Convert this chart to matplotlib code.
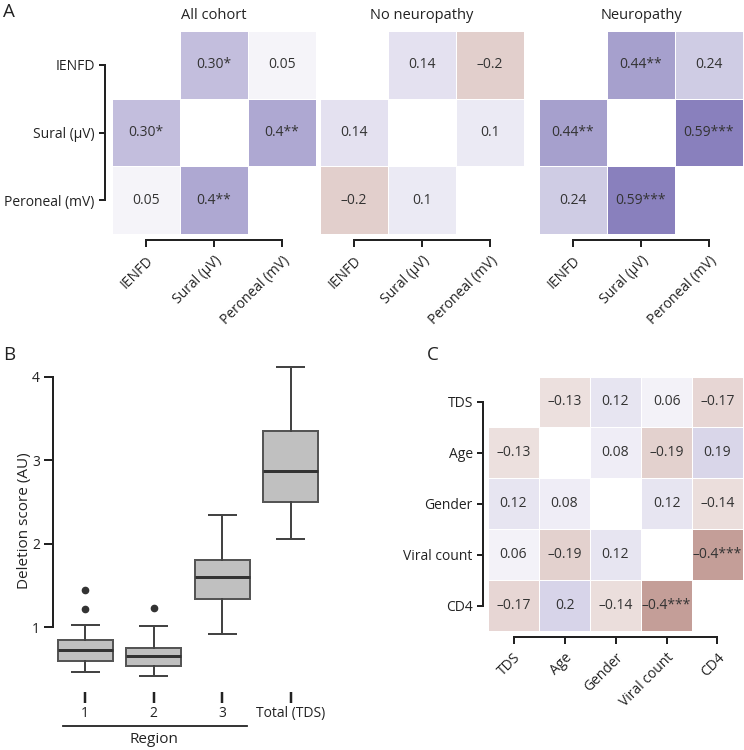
import numpy as np
import matplotlib
matplotlib.use('Agg')
import matplotlib.pyplot as plt
import matplotlib.transforms as mtransforms
from matplotlib.colors import LinearSegmentedColormap

plt.rcParams['font.family'] = ['Open Sans', 'DejaVu Sans']
plt.rcParams['text.color'] = '#222222'
plt.rcParams['axes.labelcolor'] = '#222222'
plt.rcParams['xtick.color'] = '#222222'
plt.rcParams['ytick.color'] = '#222222'

# ---- data ----
nerve_labels = ['IENFD', 'Sural (μV)', 'Peroneal (mV)']
panel_titles = ['All cohort', 'No neuropathy', 'Neuropathy']
nan = np.nan
all_cohort = [[nan, 0.30, 0.05], [0.30, nan, 0.40], [0.05, 0.40, nan]]
all_cohort_txt = [['', '0.30*', '0.05'], ['0.30*', '', '0.4**'], ['0.05', '0.4**', '']]
no_neuro = [[nan, 0.14, -0.2], [0.14, nan, 0.1], [-0.2, 0.1, nan]]
no_neuro_txt = [['', '0.14', '–0.2'], ['0.14', '', '0.1'], ['–0.2', '0.1', '']]
neuro = [[nan, 0.44, 0.24], [0.44, nan, 0.59], [0.24, 0.59, nan]]
neuro_txt = [['', '0.44**', '0.24'], ['0.44**', '', '0.59***'], ['0.24', '0.59***', '']]

clin_labels = ['TDS', 'Age', 'Gender', 'Viral count', 'CD4']
clin = [[nan, -0.13, 0.12, 0.06, -0.17],
        [-0.13, nan, 0.08, -0.19, 0.19],
        [0.12, 0.08, nan, 0.12, -0.14],
        [0.06, -0.19, 0.12, nan, -0.4],
        [-0.17, 0.2, -0.14, -0.4, nan]]
clin_txt = [['', '–0.13', '0.12', '0.06', '–0.17'],
            ['–0.13', '', '0.08', '–0.19', '0.19'],
            ['0.12', '0.08', '', '0.12', '–0.14'],
            ['0.06', '–0.19', '0.12', '', '–0.4***'],
            ['–0.17', '0.2', '–0.14', '–0.4***', '']]

box_names = ['1', '2', '3', 'Total (TDS)']
box_low = [0.46, 0.41, 0.92, 2.06]
box_q1 = [0.59, 0.53, 1.34, 2.50]
box_med = [0.72, 0.65, 1.60, 2.87]
box_q3 = [0.84, 0.75, 1.80, 3.35]
box_high = [1.02, 1.01, 2.34, 4.11]
box_fliers = [[1.22, 1.44], [1.23], [], []]

cmap = LinearSegmentedColormap.from_list('rp', ['#6e0e00', '#ffffff', '#37288f'])

W, H = 744, 750
fig = plt.figure(figsize=(W / 100, H / 100), dpi=100)
PT = 0.72  # points per pixel at 100 dpi


def px_axes(x0, y0, x1, y1):
    return fig.add_axes([x0 / W, 1 - y1 / H, (x1 - x0) / W, (y1 - y0) / H])


def heatmap(ax, vals, txt, labels, show_y=True, fs=10, off_x=6, off_y=6):
    m = np.array(vals, dtype=float)
    n = m.shape[0]
    ax.pcolormesh(np.arange(n + 1) - 0.5, np.arange(n + 1) - 0.5,
                  np.ma.masked_invalid(m), cmap=cmap, vmin=-1, vmax=1,
                  edgecolor='white', linewidth=0.4)
    ax.set_xlim(-0.5, n - 0.5)
    ax.set_ylim(n - 0.5, -0.5)
    for i in range(n):
        for j in range(n):
            if txt[i][j]:
                ax.text(j, i, txt[i][j], ha='center', va='center', fontsize=fs, color='#333333')
    for s in ['top', 'right']:
        ax.spines[s].set_visible(False)
    ax.spines['bottom'].set_position(('outward', off_x * PT))
    ax.spines['bottom'].set_bounds(0, n - 1)
    ax.set_xticks(range(n))
    ax.set_xticklabels(labels, rotation=45, ha='right', rotation_mode='anchor', fontsize=fs)
    ax.tick_params(axis='x', length=7 * PT, width=2 * PT, pad=6 * PT)
    if show_y:
        ax.spines['left'].set_position(('outward', off_y * PT))
        ax.spines['left'].set_bounds(0, n - 1)
        ax.set_yticks(range(n))
        ax.set_yticklabels(labels, fontsize=fs)
        ax.tick_params(axis='y', length=6 * PT, width=2 * PT, pad=3)
    else:
        ax.spines['left'].set_visible(False)
        ax.set_yticks([])
    for s in ['left', 'bottom']:
        ax.spines[s].set_linewidth(2 * PT)
        ax.spines[s].set_color('#222222')


# ---- panel A ----
mats = [all_cohort, no_neuro, neuro]
txts = [all_cohort_txt, no_neuro_txt, neuro_txt]
lefts = [112, 320, 539]
for k in range(3):
    ax = px_axes(lefts[k], 31, lefts[k] + 204, 234)
    heatmap(ax, mats[k], txts[k], nerve_labels, show_y=(k == 0), off_x=6, off_y=7)
    ax.set_title(panel_titles[k], fontsize=10.5, pad=9)
fig.text(3 / W, 1 - 12 / H, 'A', fontsize=13.5, va='center', ha='left')

# ---- panel B ----
axb = px_axes(53, 359.8, 325, 681.3)
stats = []
for i in range(4):
    stats.append(dict(whislo=box_low[i], q1=box_q1[i], med=box_med[i], q3=box_q3[i],
                      whishi=box_high[i], fliers=box_fliers[i], label=box_names[i]))
axb.bxp(stats, positions=range(4), widths=0.8, capwidths=0.39, patch_artist=True,
        boxprops=dict(facecolor='#c0c0c0', edgecolor='#555555', linewidth=2 * PT),
        medianprops=dict(color='#333333', linewidth=3 * PT),
        whiskerprops=dict(color='#444444', linewidth=2 * PT),
        capprops=dict(color='#444444', linewidth=2 * PT),
        flierprops=dict(marker='o', markerfacecolor='#333333', markeredgecolor='#333333', markersize=4.5))
axb.set_xlim(-0.47, 3.5)
axb.set_ylim(0.35, 4.2)
for s in ['top', 'right']:
    axb.spines[s].set_visible(False)
axb.spines['left'].set_bounds(1, 4)
axb.spines['left'].set_linewidth(2 * PT)
axb.spines['left'].set_color('#222222')
axb.spines['bottom'].set_position(('outward', 10.7 * PT))
axb.spines['bottom'].set_visible(False)
axb.set_yticks([1, 2, 3, 4])
axb.tick_params(axis='y', length=9 * PT, width=2 * PT, labelsize=10, pad=3)
axb.set_xticks(range(4))
axb.set_xticklabels(box_names, fontsize=10)
axb.tick_params(axis='x', length=11 * PT, width=2.5 * PT, pad=2)
axb.set_ylabel('Deletion score (AU)', fontsize=11, labelpad=0)
trans = mtransforms.blended_transform_factory(axb.transData, axb.transAxes)
axb.plot([-0.32, 2.36], [-0.138, -0.138], transform=trans, color='#222222', lw=1.8 * PT, clip_on=False)
axb.text(1, -0.18, 'Region', transform=trans, ha='center', va='center', fontsize=11)
fig.text(3 / W, 1 - 355 / H, 'B', fontsize=13.5, va='center', ha='left')

# ---- panel C ----
axc = px_axes(488, 376.5, 743, 631)
heatmap(axc, clin, clin_txt, clin_labels, show_y=True, off_x=6, off_y=5)
fig.text(427 / W, 1 - 355 / H, 'C', fontsize=13.5, va='center', ha='left')

fig.savefig('out.png', dpi=100, facecolor='white')
